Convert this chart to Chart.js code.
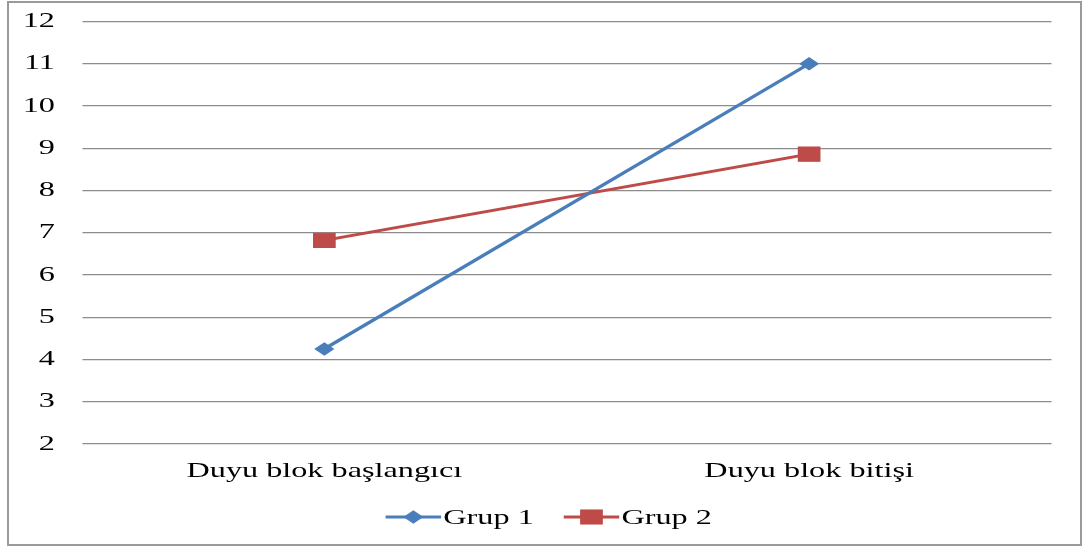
<!DOCTYPE html>
<html>
<head>
<meta charset="utf-8">
<script src="https://cdn.jsdelivr.net/npm/chart.js@4/dist/chart.umd.min.js"></script>
<style>
  html, body { margin: 0; padding: 0; background: #fff; }
  #wrap { position: relative; width: 1084px; height: 550px; overflow: hidden; }
  #c { position: absolute; left: 0; top: 0; }
  #frame { position: absolute; left: 7px; top: 1px; width: 1075px; height: 545px;
           border: 2px solid #9a9a9a; box-sizing: border-box; pointer-events: none; }
</style>
</head>
<body>
<div id="wrap">
  <canvas id="c" width="723" height="550"></canvas>
  <div id="frame"></div>
</div>
<script>
// ---- data ----
const categories = ['Duyu blok başlangıcı', 'Duyu blok bitişi'];
const seriesNames = ['Grup 1', 'Grup 2'];
const grup1 = [4.25, 11.0];
const grup2 = [6.82, 8.86];
const yMin = 2, yMax = 12, yStep = 1;

// ---- styling ----
const BLUE = '#4a7ebb';
const RED = '#be4b48';
const FONT = '"Liberation Serif", "Times New Roman", serif';
const FONT_SIZE = 21.5;
const LOGICAL_W = 723, REAL_W = 1084;
const SX = REAL_W / LOGICAL_W; // reference is stretched horizontally

const stretchPlugin = {
  id: 'stretch',
  beforeDraw(chart) {
    const cv = chart.canvas;
    if (cv.width !== REAL_W) {
      cv.width = REAL_W;
      cv.height = 550;
      cv.style.width = REAL_W + 'px';
      cv.style.height = '550px';
    }
    chart.ctx.setTransform(SX, 0, 0, 1, 0, 0);
  }
};

const legendPlugin = {
  id: 'customLegend',
  afterDraw(chart) {
    const ctx = chart.ctx;
    ctx.save();
    ctx.font = FONT_SIZE + 'px ' + FONT;
    ctx.textBaseline = 'middle';
    ctx.textAlign = 'left';
    const lineLen = 37, gap = 1.5, spacing = 20;
    const items = chart.data.datasets.map(ds => ({
      ds, w: lineLen + gap + ctx.measureText(ds.label).width
    }));
    const total = items.reduce((s, it) => s + it.w, 0) + spacing * (items.length - 1);
    let x = 366 - total / 2;
    const y = 517;
    items.forEach(it => {
      const ds = it.ds;
      ctx.strokeStyle = ds.borderColor;
      ctx.lineWidth = 3;
      ctx.beginPath();
      ctx.moveTo(x, y);
      ctx.lineTo(x + lineLen, y);
      ctx.stroke();
      ctx.fillStyle = ds.pointBackgroundColor;
      ctx.strokeStyle = ds.pointBorderColor;
      ctx.lineWidth = 1;
      Chart.helpers.drawPoint(ctx, {
        pointStyle: ds.pointStyle, radius: ds.pointRadius, borderWidth: 1, rotation: 0
      }, x + lineLen / 2, y);
      ctx.fillStyle = '#000';
      ctx.fillText(ds.label, x + lineLen + gap, y + 1);
      x += it.w + spacing;
    });
    ctx.restore();
  }
};

new Chart(document.getElementById('c'), {
  type: 'line',
  data: {
    labels: categories,
    datasets: [
      {
        label: seriesNames[0], data: grup1,
        borderColor: BLUE, backgroundColor: BLUE, borderWidth: 3,
        pointStyle: 'rectRot', pointRadius: 6,
        pointBackgroundColor: BLUE, pointBorderColor: BLUE, pointBorderWidth: 1,
        tension: 0
      },
      {
        label: seriesNames[1], data: grup2,
        borderColor: RED, backgroundColor: RED, borderWidth: 3,
        pointStyle: 'rect', pointRadius: 10,
        pointBackgroundColor: RED, pointBorderColor: RED, pointBorderWidth: 1,
        tension: 0
      }
    ]
  },
  options: {
    responsive: false,
    animation: false,
    devicePixelRatio: 1,
    layout: { padding: { top: 21.5, right: 21.67, bottom: 66, left: 0 } },
    plugins: { legend: { display: false }, tooltip: { enabled: false } },
    scales: {
      x: {
        offset: true,
        grid: { display: false, drawTicks: false },
        border: { display: false },
        ticks: { padding: 14, color: '#000', font: { family: FONT, size: FONT_SIZE } },
        afterFit(s) { s.height = 40; s.paddingLeft = 0; s.paddingRight = 0; }
      },
      y: {
        min: yMin, max: yMax,
        grid: { color: '#8c8c8c', lineWidth: 1.3, drawTicks: false },
        border: { display: false },
        ticks: { stepSize: yStep, padding: 18, color: '#000', font: { family: FONT, size: FONT_SIZE } },
        afterFit(s) { s.width = 54.67; s.paddingTop = 0; s.paddingBottom = 0; }
      }
    }
  },
  plugins: [stretchPlugin, legendPlugin]
});
</script>
</body>
</html>
